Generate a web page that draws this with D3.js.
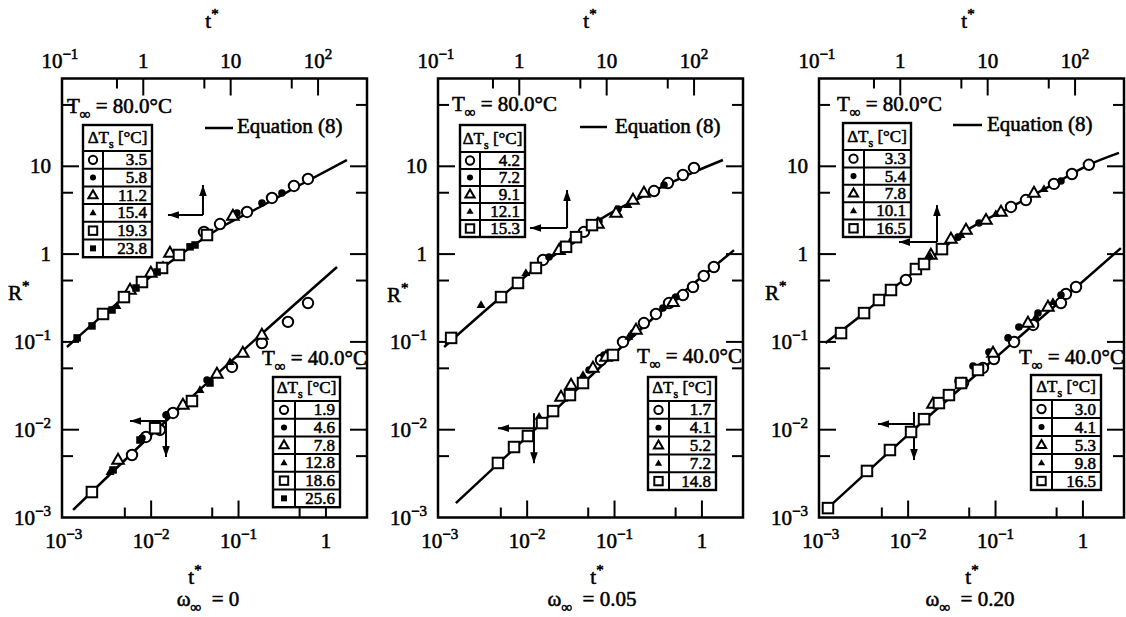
<!DOCTYPE html>
<html><head><meta charset="utf-8">
<script src="https://cdn.jsdelivr.net/npm/d3@7"></script>
<style>body{margin:0;background:#fff} text{white-space:pre}</style>
</head><body>
<svg id="c" width="1126" height="617" xmlns="http://www.w3.org/2000/svg"></svg>
<script>
// ---------------- DATA ----------------
// axis ticks
const yTickValues = [1e-3, 1e-2, 1e-1, 1, 10];
const yTickText = [["10","−3"],["10","−2"],["10","−1"],["1",""],["10",""]];
const yMajor = [1e-2, 1e-1, 1, 10];
const yMinor = [5e-3, 5e-2, 0.5, 5, 50];
const xBottomTickValues = [1e-3, 1e-2, 1e-1, 1];
const xBottomTickText = [["10","−3"],["10","−2"],["10","−1"],["1",""]];
const xBottomMajor = [1e-2, 1e-1, 1];
const xBottomMinor = [5e-3, 5e-2, 0.5];
const xTopTickValues = [0.1, 1, 10, 100];
const xTopTickText = [["10","−1"],["1",""],["10",""],["10","2"]];
const xTopMajor = [1, 10, 100];
const xTopMinor = [0.5, 5, 50];

// panel captions
const omegaValues = ["0", "0.05", "0.20"];
const hotLabel = "80.0°C";
const coldLabel = "40.0°C";
const symbolOrder = ["circleOpen","circleFilled","triangleOpen","triangleFilled","squareOpen","squareFilled"];

// Panel 1 (omega = 0) — T = 80 °C series, plotted against top t* axis
const p1HotDT = ["3.5","5.8","11.2","15.4","19.3","23.8"];
const h1a = [[76.7,7.17],[53.0,5.97],[29.7,4.36],[15.4,3.02],[7.55,2.20],[4.95,1.79]];
const h1b = [[38.6,4.97],[22.8,3.82],[11.8,2.94]];
const h1c = [[10.6,2.72],[2.02,1.03],[1.22,0.609],[0.705,0.390]];
const h1d = [[0.500,0.256],[1.68,0.751],[5.08,1.61]];
const h1e = [[2.56,0.977],[1.64,0.695],[0.966,0.481],[0.601,0.324],[0.346,0.208],[5.36,1.65]];
const h1f = [[0.175,0.111],[0.259,0.152],[0.439,0.231],[0.826,0.411],[1.44,0.625],[3.43,1.21],[3.91,1.27]];
// Panel 1 — T = 40 °C series, bottom t* axis
const p1ColdDT = ["1.9","4.6","7.8","12.8","18.6","25.6"];
const c1a = [[0.624,0.277],[0.368,0.169],[0.185,0.0971],[0.0841,0.0518],[0.0178,0.0155],[0.0126,0.00993],[0.00873,0.00826],[0.00604,0.00515]];
const c1b = [[0.0436,0.0368],[0.0148,0.0147],[0.00785,0.00804]];
const c1c = [[0.185,0.120],[0.112,0.0748],[0.0566,0.0431],[0.0231,0.0191],[0.00418,0.00452]];
const c1d = [[0.0798,0.0590],[0.0362,0.0283],[0.00338,0.00330]];
const c1e = [[0.00210,0.00195],[0.0293,0.0212],[0.0111,0.0104]];
const c1f = [[0.0471,0.0340],[0.00745,0.00763],[0.00367,0.00348]];
const eq1Hot = [[0.134,0.0875],[0.346,0.202],[0.916,0.445],[2.63,0.977],[7.55,1.98],[21.6,3.44],[62.1,6.12],[214,11.8]];
const eq1Cold = [[0.00128,0.00122],[0.0152,0.0129],[1.34,0.713]];

// Panel 2 (omega = 0.05)
const p2HotDT = ["4.2","7.2","9.1","12.1","15.3"];
const h2a = [[99.8,9.57],[74.6,7.96],[50.3,6.45],[34.8,5.23],[5.50,1.79],[3.25,1.21],[1.87,0.857]];
const h2b = [[45.3,6.12],[13.5,3.26],[8.17,2.38],[4.01,1.41],[2.19,0.927]];
const h2c = [[26.7,4.97],[20.0,4.13],[12.8,2.94],[7.96,2.20],[2.85,1.11]];
const h2d = [[0.365,0.263],[1.19,0.609],[17.5,3.62]];
const h2e = [[0.166,0.111],[0.618,0.324],[0.966,0.469],[1.55,0.695],[3.43,1.21],[6.79,2.14],[4.46,1.56]];
const p2ColdDT = ["1.7","4.1","5.2","7.2","14.8"];
const c2a = [[1.37,0.713],[1.05,0.564],[0.791,0.422],[0.607,0.342],[0.420,0.277],[0.298,0.208],[0.217,0.164],[0.125,0.0998],[0.0700,0.0622]];
const c2b = [[0.505,0.324],[0.358,0.243],[0.163,0.126],[0.0757,0.0710],[0.0511,0.0479]];
const c2c = [[0.467,0.284],[0.176,0.137],[0.0798,0.0673],[0.0566,0.0505],[0.0318,0.0323],[0.0244,0.0236]];
const c2d = [[0.146,0.114],[0.0436,0.0420],[0.0137,0.0140]];
const c2e = [[0.00463,0.00418],[0.00708,0.00635],[0.0102,0.00847],[0.0148,0.0119],[0.0198,0.0163],[0.0309,0.0248],[0.0436,0.0340],[0.0959,0.0710]];
const eq2Hot = [[0.138,0.0875],[0.618,0.324],[1.55,0.695],[3.43,1.21],[6.79,2.14],[26.7,4.6],[99.8,8.6],[214,11.8]];
const eq2Cold = [[0.00153,0.00146],[0.0102,0.0085],[0.30,0.20],[2.33,1.11]];

// Panel 3 (omega = 0.20)
const p3HotDT = ["3.3","5.4","7.8","10.1","16.5"];
const h3a = [[144,10.4],[92.2,8.17],[57.4,6.30],[27.4,4.13],[18.5,3.44],[1.16,0.507]];
const h3b = [[69.0,6.80],[7.96,2.26],[4.57,1.56]];
const h3c = [[33.9,4.97],[14.2,3.02],[9.57,2.44],[5.65,1.88],[3.80,1.49],[2.24,0.977]];
const h3d = [[44.1,5.51],[12.4,2.86],[4.95,1.65],[2.19,0.951]];
const h3e = [[0.210,0.126],[0.385,0.213],[0.570,0.300],[0.783,0.390],[1.51,0.676],[1.87,0.771],[3.00,1.14]];
const p3ColdDT = ["3.0","4.1","5.3","9.8","16.5"];
const c3a = [[0.834,0.422],[0.640,0.352],[0.561,0.277],[0.269,0.156],[0.163,0.0998],[0.0959,0.0638],[0.0718,0.0505],[0.0425,0.0340]];
const c3b = [[0.561,0.342],[0.306,0.213],[0.185,0.148],[0.139,0.111],[0.0841,0.0767],[0.0552,0.0531],[0.0372,0.0359]];
const c3c = [[0.398,0.250],[0.235,0.164],[0.0935,0.0748],[0.0192,0.0196]];
const c3d = [[0.454,0.284],[0.290,0.192],[0.0148,0.0136]];
const c3e = [[0.00121,0.00128],[0.00338,0.00339],[0.00619,0.00587],[0.0108,0.00942],[0.0152,0.0132],[0.0225,0.0201],[0.0293,0.0248],[0.0403,0.0340],[0.0630,0.0479]];
const eq3Hot = [[0.139,0.0971],[0.385,0.213],[0.783,0.39],[1.87,0.771],[5.0,1.7],[18.5,3.44],[57.4,6.3],[144,10.4],[318,14.2]];
const eq3Cold = [[0.00124,0.00132],[0.0108,0.0094],[0.269,0.156],[2.72,1.17]];

// arrow anchors [t*, R*] (hot: top axis, cold: bottom axis)
const hotArrows = [[4.82,2.79],[3.52,1.98],[2.63,1.37]];
const coldArrows = [[0.0148,0.01256],[0.01197,0.0104],[0.01167,0.0116]];

// ---------------- LAYOUT ----------------
const FONT = "'Liberation Serif','Times New Roman',serif";
const W = 305, TOP = 78.5, BOT = 517.5;
const panels = [
  {left:62, hot:[h1a,h1b,h1c,h1d,h1e,h1f], cold:[c1a,c1b,c1c,c1d,c1e,c1f], hotDT:p1HotDT, coldDT:p1ColdDT, eqHot:eq1Hot, eqCold:eq1Cold,
   hotTab:{x0:83,xd:103,x1:152,top:125,hb:151,rh:17.7}, coldTab:{x0:273,xd:295,x1:340,top:377,hb:401,rh:17.7},
   hotT:[67,113], coldT:[262,365], eq:[205,233,128,237,133], topTitle:[212,28], botTitle:[195,584], omega:[208,606], R:[8,300],
   hotArr:{up:30,left:35}, coldArr:{above:10,down:36,left:36}},
  {left:438, hot:[h2a,h2b,h2c,h2d,h2e], cold:[c2a,c2b,c2c,c2d,c2e], hotDT:p2HotDT, coldDT:p2ColdDT, eqHot:eq2Hot, eqCold:eq2Cold,
   hotTab:{x0:460,xd:480,x1:525,top:125,hb:152,rh:17}, coldTab:{x0:648,xd:669,x1:716,top:377,hb:401,rh:17.8},
   hotT:[452,111], coldT:[637,363], eq:[580,607,127,615,133], topTitle:[590,28], botTitle:[597,584], omega:[592,606], R:[387,302],
   hotArr:{up:38,left:37}, coldArr:{above:15,down:35,left:36}},
  {left:819, hot:[h3a,h3b,h3c,h3d,h3e], cold:[c3a,c3b,c3c,c3d,c3e], hotDT:p3HotDT, coldDT:p3ColdDT, eqHot:eq3Hot, eqCold:eq3Cold,
   hotTab:{x0:843,xd:864,x1:911,top:123,hb:150,rh:17.4}, coldTab:{x0:1031,xd:1052,x1:1101,top:375,hb:400,rh:18},
   hotT:[837,111], coldT:[1019,364], eq:[953,982,125,987,131], topTitle:[968,28], botTitle:[972,584], omega:[970,606], R:[765,300],
   hotArr:{up:37,left:38}, coldArr:{above:12,down:36,left:36}}
];

const svg = d3.select("#c");
svg.append("rect").attr("width",1126).attr("height",617).attr("fill","#fff");

function rich(g, x, y, parts, size, anchor) {
  const t = g.append("text").attr("x",x).attr("y",y).attr("font-family",FONT)
    .attr("font-size",size).attr("text-anchor",anchor||"start").attr("fill","#000")
    .attr("stroke","#000").attr("stroke-width",0.55);
  let cur = 0;
  parts.forEach(([s,k]) => {
    if (!s) return;
    const off = k==="sup" ? -0.42*size : k==="sub" ? 0.3*size : 0;
    t.append("tspan").attr("dy", off-cur).attr("font-size", k==="n"? size : Math.round(size*0.7)).text(s);
    cur = off;
  });
  return t;
}

function sym(g, type, cx, cy, s) {
  s = s || 1;
  const open = type.endsWith("Open");
  const sw = 2;
  let el;
  if (type.startsWith("circle")) {
    el = g.append("circle").attr("cx",cx).attr("cy",cy).attr("r", (open?5.2:3.8)*s);
  } else if (type.startsWith("triangle")) {
    const a = (open?11.5:9)*s, h = a*Math.sqrt(3)/2;
    el = g.append("path").attr("d", `M${cx},${cy-h*0.62}L${cx+a/2},${cy+h*0.38}L${cx-a/2},${cy+h*0.38}Z`);
  } else {
    const a = (open?10.5:7.5)*s;
    el = g.append("rect").attr("x",cx-a/2).attr("y",cy-a/2).attr("width",a).attr("height",a);
  }
  if (open) el.attr("fill","#fff").attr("stroke","#000").attr("stroke-width",sw);
  else el.attr("fill","#000");
}

function arrow(g, x1, y1, x2, y2) {
  g.append("line").attr("x1",x1).attr("y1",y1).attr("x2",x2).attr("y2",y2)
    .attr("stroke","#000").attr("stroke-width",2);
  const ang = Math.atan2(y2-y1, x2-x1), L = 11, Wd = 3.8;
  const bx = x2 - L*Math.cos(ang), by = y2 - L*Math.sin(ang);
  const px = -Math.sin(ang)*Wd, py = Math.cos(ang)*Wd;
  g.append("path").attr("d",`M${x2},${y2}L${bx+px},${by+py}L${bx-px},${by-py}Z`).attr("fill","#000");
}

function table(g, T, labels) {
  const n = labels.length, bottom = T.hb + n*T.rh;
  const ln = (a,b,c,d) => g.append("line").attr("x1",a).attr("y1",b).attr("x2",c).attr("y2",d).attr("stroke","#000").attr("stroke-width",2);
  g.append("rect").attr("x",T.x0).attr("y",T.top).attr("width",T.x1-T.x0).attr("height",bottom-T.top)
    .attr("fill","#fff").attr("stroke","#000").attr("stroke-width",2.4);
  ln(T.x0,T.hb,T.x1,T.hb);
  ln(T.xd,T.hb,T.xd,bottom);
  for (let i=1;i<n;i++) ln(T.x0,T.hb+i*T.rh,T.x1,T.hb+i*T.rh);
  rich(g,(T.x0+T.x1)/2, T.hb-8, [["ΔT","n"],["s","sub"],[" [°C]","n"]], 17, "middle");
  labels.forEach((lab,i) => {
    const cy = T.hb + (i+0.5)*T.rh;
    sym(g, symbolOrder[i], (T.x0+T.xd)/2, cy, 0.8);
    rich(g, T.x1-5, cy+5.5, [[lab,"n"]], 17, "end");
  });
}

panels.forEach((P,pi) => {
  const g = svg.append("g");
  const x = d3.scaleLog().domain([Math.pow(10,-3.02), Math.pow(10,0.47)]).range([P.left, P.left+W]);
  const xt = d3.scaleLog().domain([Math.pow(10,-0.93), Math.pow(10,2.56)]).range([P.left, P.left+W]);
  const y = d3.scaleLog().domain([1e-3,1e2]).range([BOT, TOP]);
  const R = P.left + W;

  // ticks (inward, all four sides)
  const tk = (x1,y1,x2,y2) => g.append("line").attr("x1",x1).attr("y1",y1).attr("x2",x2).attr("y2",y2).attr("stroke","#000").attr("stroke-width",2);
  xBottomMajor.forEach(v => tk(x(v),BOT,x(v),BOT-17));
  xBottomMinor.forEach(v => tk(x(v),BOT,x(v),BOT-10));
  xTopMajor.forEach(v => tk(xt(v),TOP,xt(v),TOP+17));
  xTopMinor.forEach(v => tk(xt(v),TOP,xt(v),TOP+10));
  yMajor.forEach(v => { tk(P.left,y(v),P.left+17,y(v)); tk(R,y(v),R-17,y(v)); });
  yMinor.forEach(v => { tk(P.left,y(v),P.left+11,y(v)); tk(R,y(v),R-11,y(v)); });

  // frame
  g.append("rect").attr("x",P.left).attr("y",TOP).attr("width",W).attr("height",BOT-TOP)
    .attr("fill","none").attr("stroke","#000").attr("stroke-width",2.5);

  // tick labels
  xBottomTickValues.forEach((v,i) => rich(g, x(v), 548, [[xBottomTickText[i][0],"n"],[xBottomTickText[i][1],"sup"]], 21, "middle"));
  xTopTickValues.forEach((v,i) => rich(g, xt(v)+ (i===0?4:0), 68, [[xTopTickText[i][0],"n"],[xTopTickText[i][1],"sup"]], 21, "middle"));
  yTickValues.forEach((v,i) => rich(g, P.left-11, y(v)+7, [[yTickText[i][0],"n"],[yTickText[i][1],"sup"]], 21, "end"));

  // axis titles
  rich(g, P.topTitle[0], P.topTitle[1], [["t","n"],["*","sup"]], 21, "middle");
  rich(g, P.botTitle[0], P.botTitle[1], [["t","n"],["*","sup"]], 21, "middle");
  rich(g, P.R[0], P.R[1], [["R","n"],["*","sup"]], 21, "start");
  rich(g, P.omega[0], P.omega[1], [["ω","n"],["∞","sub"],["  = "+omegaValues[pi],"n"]], 21, "middle");

  // equation (8) curves
  const lineHot = d3.line().x(d => xt(d[0])).y(d => y(d[1])).curve(d3.curveMonotoneX);
  const lineCold = d3.line().x(d => x(d[0])).y(d => y(d[1])).curve(d3.curveMonotoneX);
  g.append("path").attr("d", lineHot(P.eqHot)).attr("fill","none").attr("stroke","#000").attr("stroke-width",2.5);
  g.append("path").attr("d", lineCold(P.eqCold)).attr("fill","none").attr("stroke","#000").attr("stroke-width",2.5);

  // arrows
  const ha = P.hotArr, hcx = xt(hotArrows[pi][0]), hcy = y(hotArrows[pi][1]);
  arrow(g, hcx, hcy, hcx, hcy-ha.up);
  arrow(g, hcx, hcy, hcx-ha.left, hcy);
  const ca = P.coldArr, ccx = x(coldArrows[pi][0]), ccy = y(coldArrows[pi][1]);
  arrow(g, ccx, ccy-ca.above, ccx, ccy+ca.down);
  arrow(g, ccx, ccy, ccx-ca.left, ccy);

  // data markers
  P.hot.forEach((ser,si) => ser.forEach(d => sym(g, symbolOrder[si], xt(d[0]), y(d[1]))));
  P.cold.forEach((ser,si) => ser.forEach(d => sym(g, symbolOrder[si], x(d[0]), y(d[1]))));

  // legends
  rich(g, P.hotT[0], P.hotT[1], [["T","n"],["∞","sub"],[" = "+hotLabel,"n"]], 21, "start");
  rich(g, P.coldT[0], P.coldT[1], [["T","n"],["∞","sub"],[" = "+coldLabel,"n"]], 21, "start");
  table(g, P.hotTab, P.hotDT);
  table(g, P.coldTab, P.coldDT);
  g.append("line").attr("x1",P.eq[0]).attr("x2",P.eq[1]).attr("y1",P.eq[2]).attr("y2",P.eq[2]).attr("stroke","#000").attr("stroke-width",2.5);
  rich(g, P.eq[3], P.eq[4], [["Equation (8)","n"]], 21, "start");
});
</script>
</body></html>
